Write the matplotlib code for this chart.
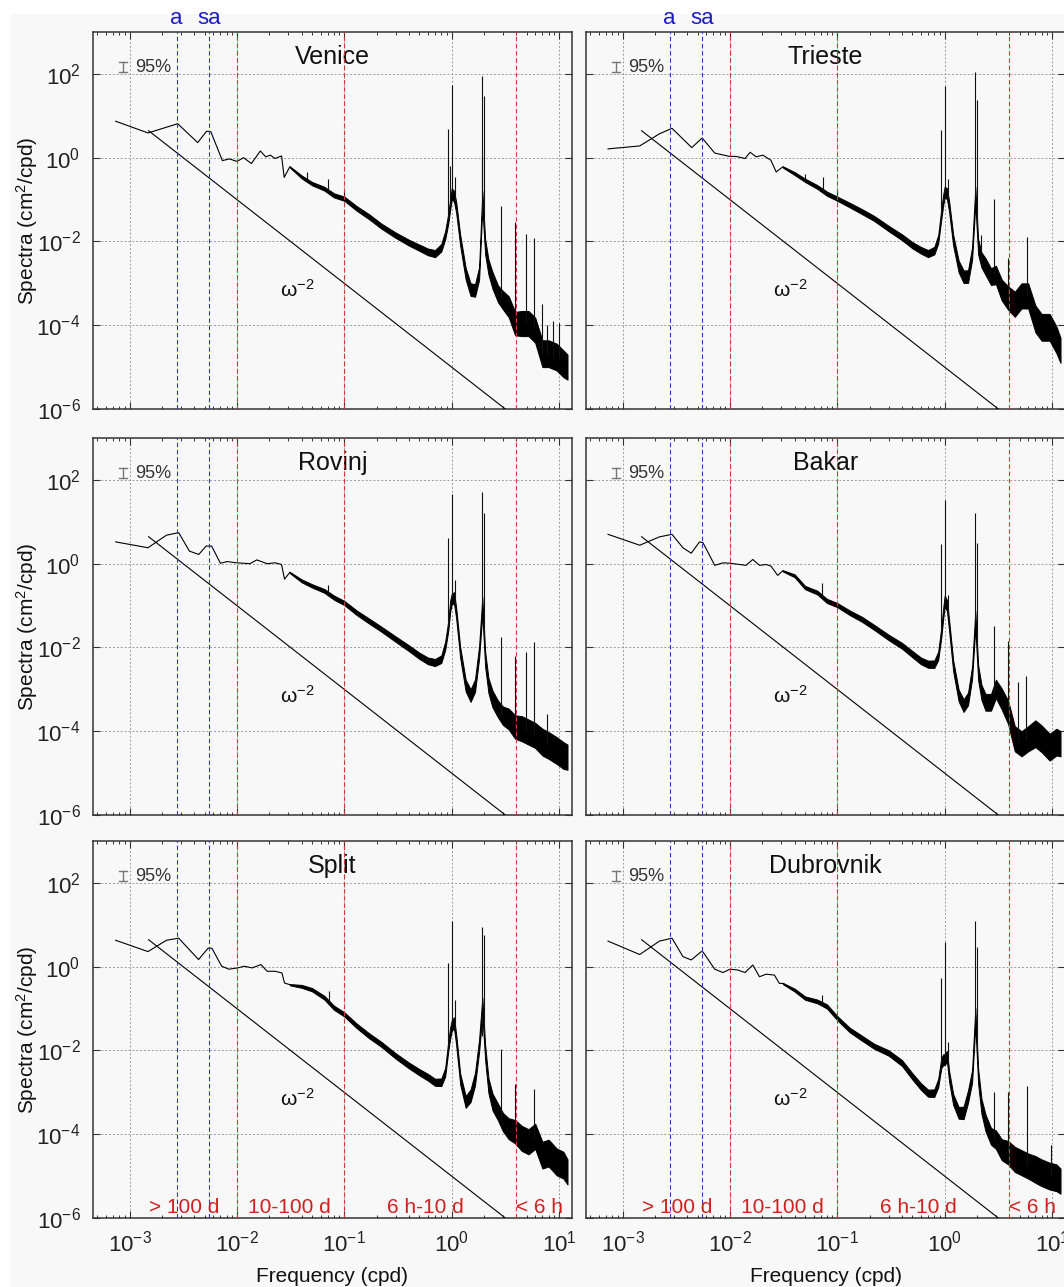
import numpy as np
import matplotlib
matplotlib.use("Agg")
import matplotlib.pyplot as plt
from matplotlib.ticker import LogLocator, FixedLocator, NullLocator, NullFormatter
from matplotlib.patches import Rectangle
import matplotlib.transforms as mtransforms

plt.rcParams["font.family"] = ["Liberation Sans", "DejaVu Sans"]
plt.rcParams["mathtext.fontset"] = "custom"
plt.rcParams["mathtext.rm"] = "Liberation Sans"
plt.rcParams["mathtext.it"] = "Liberation Sans:italic"
plt.rcParams["mathtext.default"] = "regular"

# ---------------------------------------------------------------- data
stations = ["Venice", "Trieste", "Rovinj", "Bakar", "Split", "Dubrovnik"]

# low-frequency part of each spectrum (cpd, log10 of cm^2/cpd)
venice_lf_f = [7.4e-4, 1.48e-3, 2.8e-3, 4.3e-3, 5.2e-3, 5.7e-3, 7.3e-3, 8.5e-3, 1.0e-2,
               1.15e-2, 1.36e-2, 1.65e-2, 1.85e-2, 2.05e-2, 2.25e-2, 2.6e-2, 2.75e-2, 3.1e-2]
venice_lf_log = [0.87, 0.59, 0.81, 0.36, 0.63, 0.62, -0.07, -0.03, -0.09,
                 0.0, -0.14, 0.16, 0.02, 0.06, -0.02, 0.04, -0.47, -0.22]

trieste_lf_f = [7.3e-4, 1.44e-3, 2.2e-3, 2.88e-3, 4.4e-3, 5.5e-3, 7.2e-3, 9.9e-3, 1.14e-2,
                1.38e-2, 1.54e-2, 1.75e-2, 2.02e-2, 2.4e-2, 2.69e-2, 3.1e-2]
trieste_lf_log = [0.21, 0.28, 0.57, 0.70, 0.24, 0.47, 0.11, 0.03, 0.03,
                  -0.02, 0.13, 0.02, 0.06, -0.06, -0.34, -0.22]

rovinj_lf_f = [7.4e-4, 1.48e-3, 2.2e-3, 2.86e-3, 3.6e-3, 4.4e-3, 5.15e-3, 5.8e-3, 7.0e-3,
               8.1e-3, 9.9e-3, 1.32e-2, 1.53e-2, 1.91e-2, 2.26e-2, 2.6e-2, 2.77e-2, 3.1e-2]
rovinj_lf_log = [0.52, 0.38, 0.68, 0.74, 0.30, 0.22, 0.42, 0.42, 0.01,
                 0.05, 0.02, 0.0, 0.09, 0.0, 0.02, -0.02, -0.37, -0.21]

bakar_lf_f = [7.3e-4, 1.44e-3, 2.2e-3, 2.88e-3, 3.64e-3, 4.35e-3, 5.2e-3, 5.6e-3, 7.2e-3,
              8.6e-3, 1.0e-2, 1.41e-2, 1.63e-2, 1.88e-2, 2.17e-2, 2.41e-2, 2.78e-2, 3.1e-2]
bakar_lf_log = [0.70, 0.44, 0.64, 0.70, 0.38, 0.25, 0.52, 0.50, -0.04,
                0.02, 0.01, -0.04, 0.10, -0.04, -0.02, -0.06, -0.28, -0.17]

split_lf_f = [7.4e-4, 1.48e-3, 2.2e-3, 2.86e-3, 4.38e-3, 5.37e-3, 5.83e-3, 7.2e-3, 8.4e-3,
              1.01e-2, 1.17e-2, 1.38e-2, 1.67e-2, 1.91e-2, 2.26e-2, 2.62e-2, 2.77e-2, 3.1e-2]
split_lf_log = [0.63, 0.36, 0.63, 0.68, 0.17, 0.44, 0.44, 0.01, -0.06,
                -0.03, 0.01, -0.03, 0.05, -0.11, -0.11, -0.15, -0.39, -0.43]

dubrovnik_lf_f = [7.3e-4, 1.44e-3, 2.2e-3, 2.88e-3, 3.64e-3, 4.35e-3, 5.4e-3, 5.6e-3, 7.2e-3,
                  8.6e-3, 1.0e-2, 1.18e-2, 1.38e-2, 1.63e-2, 1.88e-2, 2.17e-2, 2.59e-2, 2.88e-2, 3.1e-2]
dubrovnik_lf_log = [0.61, 0.29, 0.61, 0.68, 0.24, 0.16, 0.36, 0.35, -0.06,
                    -0.14, -0.06, -0.08, -0.14, 0.04, -0.24, -0.18, -0.2, -0.4, -0.4]

# noisy high-frequency part: band centre (log10) on a common frequency grid
band_f = [0.031, 0.04, 0.05, 0.065, 0.08, 0.1, 0.13, 0.17, 0.22, 0.3, 0.4, 0.5, 0.6, 0.7,
          0.8, 0.87, 0.93, 0.97, 1.0, 1.05, 1.1, 1.2, 1.35, 1.5, 1.65, 1.8, 1.93, 2.05,
          2.2, 2.4, 2.7, 3.0, 3.4, 3.9, 4.5, 5.2, 6.0, 7.0, 8.0, 9.5, 11.0, 12.0]
# half-width of the noise band (decades)
band_spread = [0.015, 0.035, 0.04, 0.045, 0.05, 0.05, 0.055, 0.06, 0.06, 0.065, 0.07, 0.075,
               0.08, 0.085, 0.09, 0.1, 0.12, 0.13, 0.13, 0.13, 0.13, 0.13, 0.14, 0.15, 0.15,
               0.15, 0.2, 0.18, 0.18, 0.2, 0.2, 0.22, 0.25, 0.28, 0.3, 0.3, 0.3, 0.32, 0.32,
               0.32, 0.32, 0.3]

venice_band = [-0.22, -0.46, -0.62, -0.74, -0.9, -0.98, -1.21, -1.41, -1.63, -1.85, -2.03, -2.15,
               -2.25, -2.29, -2.15, -1.85, -1.45, -1.1, -0.86, -0.92, -1.18, -1.97, -2.77, -3.15,
               -3.17, -2.77, -1.0, -2.13, -2.61, -2.93, -3.25, -3.4, -3.56, -3.96, -3.96, -3.96,
               -4.12, -4.68, -4.68, -4.76, -4.92, -5.0]
trieste_band = [-0.22, -0.38, -0.54, -0.70, -0.86, -0.98, -1.13, -1.29, -1.45, -1.69, -1.90, -2.09,
                -2.21, -2.29, -2.22, -1.95, -1.35, -1.0, -0.82, -0.86, -1.17, -1.97, -2.6, -2.84,
                -2.84, -2.29, -0.9, -2.13, -2.44, -2.6, -2.84, -2.8, -3.16, -3.35, -3.5, -3.3,
                -3.3, -3.85, -4.05, -4.05, -4.35, -4.6]
rovinj_band = [-0.21, -0.41, -0.53, -0.65, -0.81, -0.94, -1.17, -1.37, -1.56, -1.8, -2.02, -2.2,
               -2.32, -2.36, -2.28, -1.96, -1.48, -1.0, -0.85, -0.81, -1.17, -2.12, -2.91, -3.15,
               -2.91, -2.12, -1.0, -2.28, -2.91, -3.23, -3.47, -3.63, -3.71, -3.9, -3.94, -4.02,
               -4.1, -4.26, -4.34, -4.46, -4.58, -4.62]
bakar_band = [-0.17, -0.29, -0.57, -0.69, -0.89, -0.99, -1.17, -1.33, -1.52, -1.76, -1.96, -2.16,
              -2.32, -2.4, -2.4, -2.2, -1.64, -1.17, -0.89, -1.0, -1.48, -2.44, -3.15, -3.39,
              -3.23, -2.6, -1.33, -2.6, -3.07, -3.31, -3.31, -2.99, -3.23, -3.55, -4.18, -4.3,
              -4.18, -4.06, -4.18, -4.38, -4.26, -4.3]
split_band = [-0.43, -0.47, -0.55, -0.74, -0.98, -1.14, -1.41, -1.65, -1.85, -2.13, -2.36, -2.52,
              -2.64, -2.76, -2.76, -2.52, -1.89, -1.57, -1.41, -1.34, -1.73, -2.68, -3.23, -3.08,
              -2.68, -1.89, -0.94, -2.05, -2.84, -3.23, -3.47, -3.71, -3.87, -3.94, -4.1, -4.18,
              -4.05, -4.5, -4.45, -4.66, -4.74, -4.9]
dubrovnik_band = [-0.4, -0.56, -0.75, -0.83, -0.95, -1.23, -1.51, -1.71, -1.9, -2.06, -2.3, -2.62,
                  -2.86, -3.02, -3.02, -2.78, -2.3, -2.22, -2.22, -2.14, -2.62, -3.17, -3.49, -3.49,
                  -3.1, -2.62, -1.19, -2.62, -3.33, -3.73, -4.05, -4.13, -4.37, -4.44, -4.6, -4.68,
                  -4.76, -4.84, -4.92, -5.0, -5.04, -5.12]

# narrow spectral lines (cpd, log10 of peak value)
venice_peak_f = [0.045, 0.071, 0.1, 0.93, 0.965, 1.003, 1.07, 1.90, 1.932, 2.0, 2.9, 3.86,
                 4.93, 5.8, 7.0, 7.73, 8.8, 9.9]
venice_peak_log = [-0.35, -0.5, -0.8, 0.69, -0.2, 1.74, -0.45, 0.0, 1.96, 1.48, -1.16, -1.54,
                   -1.83, -1.92, -3.49, -4.0, -3.9, -3.95]
trieste_peak_f = [0.05, 0.073, 0.1, 0.93, 1.003, 1.07, 1.932, 2.0, 2.2, 2.9, 3.86, 5.8]
trieste_peak_log = [-0.4, -0.46, -0.74, 0.67, 1.72, -0.5, 2.04, 1.37, -1.85, -0.98, -2.4, -1.9]
rovinj_peak_f = [0.071, 0.93, 1.003, 1.07, 1.90, 1.932, 2.0, 2.9, 3.86, 4.93, 5.8, 7.7]
rovinj_peak_log = [-0.5, 0.62, 1.67, -0.4, -1.3, 1.71, 1.2, -1.74, -2.2, -2.12, -1.88, -3.6]
bakar_peak_f = [0.072, 0.93, 1.003, 1.07, 1.932, 2.0, 2.9, 3.86, 4.84, 5.75]
bakar_peak_log = [-0.45, 0.48, 1.51, -0.75, 1.21, 0.5, -1.48, -1.84, -2.83, -2.67]
split_peak_f = [0.072, 0.93, 1.003, 1.07, 1.90, 1.932, 2.0, 2.9, 3.86, 5.8]
split_peak_log = [-0.58, 0.09, 1.08, -0.8, -1.65, 0.94, 0.76, -1.97, -2.8, -2.92]
dubrovnik_peak_f = [0.072, 0.93, 1.003, 1.07, 1.87, 1.932, 2.0, 2.9, 3.86, 5.8, 9.7]
dubrovnik_peak_log = [-0.67, -0.28, 0.6, -1.8, -2.05, 1.1, 0.48, -3.0, -3.0, -2.86, -4.25]

# omega^-2 reference slope (end points)
ref_f = [1.5e-3, 3.16]
ref_s = [4.4, 1.0e-6]

# annual / semi-annual frequencies and band boundaries (cpd)
tide_f = [1 / 365.25, 2 / 365.25]
tide_labels = ["a", "sa"]
bound_f = [0.01, 0.1, 4.0]
band_text = ["> 100 d", "10-100 d", "6 h-10 d", "< 6 h"]
band_text_f = [3.2e-3, 0.031, 0.57, 6.6]

lf_f = [venice_lf_f, trieste_lf_f, rovinj_lf_f, bakar_lf_f, split_lf_f, dubrovnik_lf_f]
lf_log = [venice_lf_log, trieste_lf_log, rovinj_lf_log, bakar_lf_log, split_lf_log, dubrovnik_lf_log]
band_log = [venice_band, trieste_band, rovinj_band, bakar_band, split_band, dubrovnik_band]
peak_f = [venice_peak_f, trieste_peak_f, rovinj_peak_f, bakar_peak_f, split_peak_f, dubrovnik_peak_f]
peak_log = [venice_peak_log, trieste_peak_log, rovinj_peak_log, bakar_peak_log, split_peak_log,
            dubrovnik_peak_log]

# ---------------------------------------------------------------- figure
W, H = 1064, 1287
BG = "#f8f8f8"
fig = plt.figure(figsize=(W / 100, H / 100), dpi=100, facecolor=BG)
fig.patches.append(Rectangle((0, 1 - 14 / H), 1, 14 / H, transform=fig.transFigure,
                             facecolor="white", edgecolor="none", zorder=-5))
fig.patches.append(Rectangle((0, 0), 11 / W, 1, transform=fig.transFigure,
                             facecolor="white", edgecolor="none", zorder=-5))

col_left = [93, 586]
ax_w = 479
row_top = [32, 438, 841]
ax_h = 377

XMIN, XMAX = 10 ** -3.342, 10 ** 1.121
BLUE = "#3434c8"
RED = "#d43434"
TXT_BLUE = "#1c1cc0"
TXT_RED = "#d02020"

band_f_arr = np.array(band_f)
spread = np.array(band_spread)

for k, name in enumerate(stations):
    r, c = divmod(k, 2)
    left = col_left[c] / W
    bottom = 1 - (row_top[r] + ax_h) / H
    ax = fig.add_axes([left, bottom, ax_w / W, ax_h / H])
    ax.set_facecolor(BG)
    ax.set_xscale("log")
    ax.set_yscale("log")
    ax.set_xlim(XMIN, XMAX)
    ax.set_ylim(1e-6, 1e3)

    ax.xaxis.set_major_locator(LogLocator(base=10, numticks=20))
    ax.xaxis.set_minor_locator(LogLocator(base=10, subs=np.arange(2, 10), numticks=20))
    ax.xaxis.set_minor_formatter(NullFormatter())
    ax.yaxis.set_major_locator(FixedLocator([1e-6, 1e-4, 1e-2, 1e0, 1e2]))
    ax.yaxis.set_minor_locator(NullLocator())
    ax.grid(True, which="major", ls=(0, (2, 2)), color="#9c9c9c", lw=0.7)
    ax.set_axisbelow(True)
    ax.tick_params(which="both", direction="in", top=True, right=True, color="#333333",
                   labelsize=16, labelcolor="#222222")
    ax.tick_params(which="major", length=5, width=0.8)
    ax.tick_params(which="minor", length=2.5, width=0.7)
    ax.tick_params(axis="x", pad=9)
    ax.tick_params(axis="y", pad=9)
    if r < 2:
        ax.tick_params(labelbottom=False)
    if c == 1:
        ax.tick_params(labelleft=False)
    for sp in ax.spines.values():
        sp.set_color("#333333")
        sp.set_linewidth(1.1)

    # spectrum
    ax.plot(lf_f[k], 10 ** np.array(lf_log[k]), color="k", lw=0.8, zorder=3)
    mid = np.array(band_log[k])
    ax.fill_between(band_f_arr, 10 ** (mid - spread), 10 ** (mid + spread),
                    color="k", lw=0.7, zorder=3)
    pf = np.array(peak_f[k])
    base = 10 ** np.interp(np.log10(pf), np.log10(band_f_arr), mid)
    ax.vlines(pf, base, 10 ** np.array(peak_log[k]), color="#111111", lw=0.8, zorder=3)

    # omega^-2 line
    ax.plot(ref_f, ref_s, color="k", lw=0.8, zorder=3)
    ax.text(0.025, 10 ** -3.15, "ω$^{-2}$", fontsize=15, ha="left", va="center", color="#111111")

    # frequency bands
    for f in tide_f:
        ax.axvline(f, color=BLUE, ls=(0, (4, 2.5)), lw=0.8, zorder=4)
    for f in bound_f:
        ax.axvline(f, color=RED, ls=(0, (4, 2.5)), lw=0.8, zorder=4)

    # station name and confidence mark
    ax.text(0.5, 0.933, name, transform=ax.transAxes, ha="center", va="center",
            fontsize=18, color="#111111")
    ax.text(0.087, 0.907, "95%", transform=ax.transAxes, ha="left", va="center",
            fontsize=13, color="#333333")
    ax.plot([0.063, 0.063], [0.894, 0.920], transform=ax.transAxes, color="#777777", lw=1.0)
    ax.plot([0.055, 0.071], [0.894, 0.894], transform=ax.transAxes, color="#777777", lw=1.0)
    ax.plot([0.055, 0.071], [0.920, 0.920], transform=ax.transAxes, color="#777777", lw=1.0)

    trans = mtransforms.blended_transform_factory(ax.transData, ax.transAxes)
    if r == 0:
        for f, lab in zip(tide_f, tide_labels):
            ax.text(f, 1.036, lab, transform=trans, ha="center", va="center",
                    fontsize=16, color=TXT_BLUE, clip_on=False)
    if r == 2:
        for f, lab in zip(band_text_f, band_text):
            ax.text(f, 10 ** -5.74, lab, ha="center", va="center", fontsize=15,
                    color=TXT_RED, zorder=5)
        fig.text((col_left[c] + ax_w / 2) / W, 1 - 1277 / H, "Frequency (cpd)",
                 ha="center", va="center", fontsize=15, color="#111111")
    if c == 0:
        fig.text(27 / W, 1 - (row_top[r] + ax_h / 2) / H, "Spectra (cm$^2$/cpd)",
                 rotation=90, ha="center", va="center", fontsize=15, color="#111111")

fig.savefig("out.png", dpi=100, facecolor=BG)
